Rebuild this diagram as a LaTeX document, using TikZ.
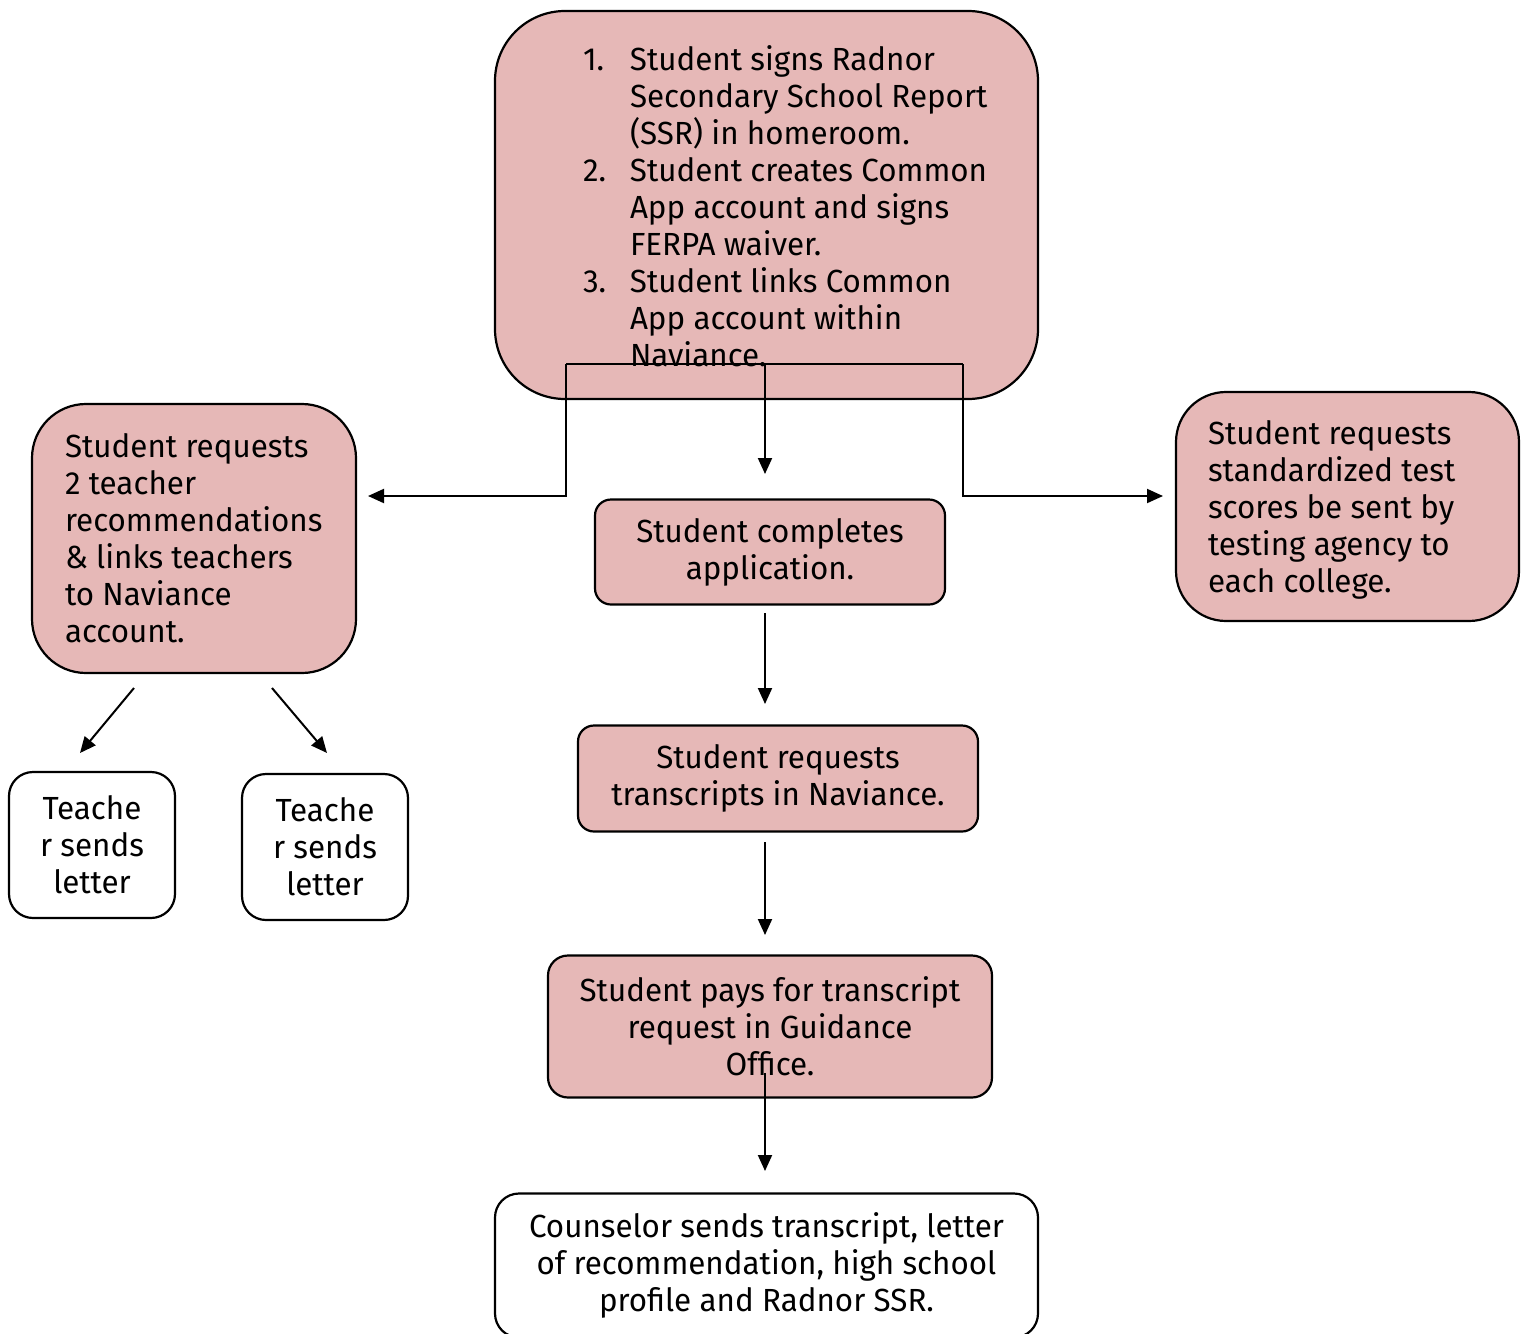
\documentclass[tikz,border=0pt]{standalone}
\usepackage{fontspec}
\setmainfont{Fira Sans}[FakeStretch=0.98]
\usetikzlibrary{arrows.meta}
\definecolor{boxpink}{HTML}{E6B8B7}
\begin{document}
\begin{tikzpicture}[x=0.5pt,y=-0.5pt,
  every node/.style={inner sep=0pt,outer sep=0pt,font=\fontsize{16}{18.5}\selectfont},
  pinkbox/.style={draw=black,line width=1.1pt,fill=boxpink,rounded corners=#1},
  whitebox/.style={draw=black,line width=1.1pt,fill=white,rounded corners=#1},
  txt/.style={align=left,anchor=base west},
  ctxt/.style={align=center},
  conn/.style={line width=1pt,-{Triangle[length=8pt,width=7pt]}},
  plain/.style={line width=1pt}]
\useasboundingbox (0,0) rectangle (1527,1334);

% boxes
\node[pinkbox=35pt,minimum width=271.5pt,minimum height=194pt] (top) at (766.5,205) {};
\node[txt] (toptext) at (583,366.5) {%
\makebox[23.5pt][l]{1.}Student signs Radnor\\
\hspace*{23.5pt}Secondary School Report\\
\hspace*{23.5pt}(SSR) in homeroom.\\
\makebox[23.5pt][l]{2.}Student creates Common\\
\hspace*{23.5pt}App account and signs\\
\hspace*{23.5pt}FERPA waiver.\\
\makebox[23.5pt][l]{3.}Student links Common\\
\hspace*{23.5pt}App account within\\
\hspace*{23.5pt}Naviance.};

\node[pinkbox=27pt,minimum width=162pt,minimum height=134.5pt] (left) at (194,538.5) {};
\node[txt] (lefttext) at (65,642.5) {Student requests\\2 teacher\\recommendations\\\& links teachers\\to Naviance\\account.};

\node[pinkbox=25pt,minimum width=171.5pt,minimum height=114.5pt] (right) at (1347.5,506.5) {};
\node[txt] (righttext) at (1208,592) {Student requests\\standardized test\\scores be sent by\\testing agency to\\each college.};

\node[pinkbox=8pt,minimum width=175pt,minimum height=52.5pt,ctxt] (complete) at (770,552) {Student completes\\application.};
\node[pinkbox=8pt,minimum width=200pt,minimum height=53pt,ctxt] (transcripts) at (778,778.5) {Student requests\\transcripts in Naviance.};
\node[pinkbox=10pt,minimum width=222pt,minimum height=71pt,ctxt] (pays) at (770,1026.5) {Student pays for transcript\\request in Guidance\\Office.};
\node[whitebox=12pt,minimum width=271.5pt,minimum height=72pt,ctxt] (counselor) at (766.5,1265.5) {Counselor sends transcript, letter\\of recommendation, high school\\profile and Radnor SSR.};

\node[whitebox=12pt,minimum width=83pt,minimum height=73pt,ctxt] (teacherA) at (92,845) {Teache\\r sends\\letter};
\node[whitebox=12pt,minimum width=83pt,minimum height=73pt,ctxt] (teacherB) at (325,847) {Teache\\r sends\\letter};

% connector coordinates
\coordinate (jl) at (566,364);
\coordinate (jm) at (765,364);
\coordinate (jr) at (963,364);
\coordinate (la) at (368,496);
\coordinate (ra) at (1163,496);
\coordinate (ma) at (765,474);
\coordinate (c1) at (765,613);
\coordinate (c2) at (765,704);
\coordinate (t1) at (765,842);
\coordinate (t2) at (765,935);
\coordinate (p1) at (765,1073);
\coordinate (p2) at (765,1171);
\coordinate (l1) at (134,688);
\coordinate (l2) at (80,753);
\coordinate (r1) at (272,688);
\coordinate (r2) at (327,753);

\draw[plain] (jl) -- (jr);
\draw[conn] (jl) |- (la);
\draw[conn] (jr) |- (ra);
\draw[conn] (jm) -- (ma);
\draw[conn] (c1) -- (c2);
\draw[conn] (t1) -- (t2);
\draw[conn] (p1) -- (p2);
\draw[conn] (l1) -- (l2);
\draw[conn] (r1) -- (r2);
\end{tikzpicture}
\end{document}
